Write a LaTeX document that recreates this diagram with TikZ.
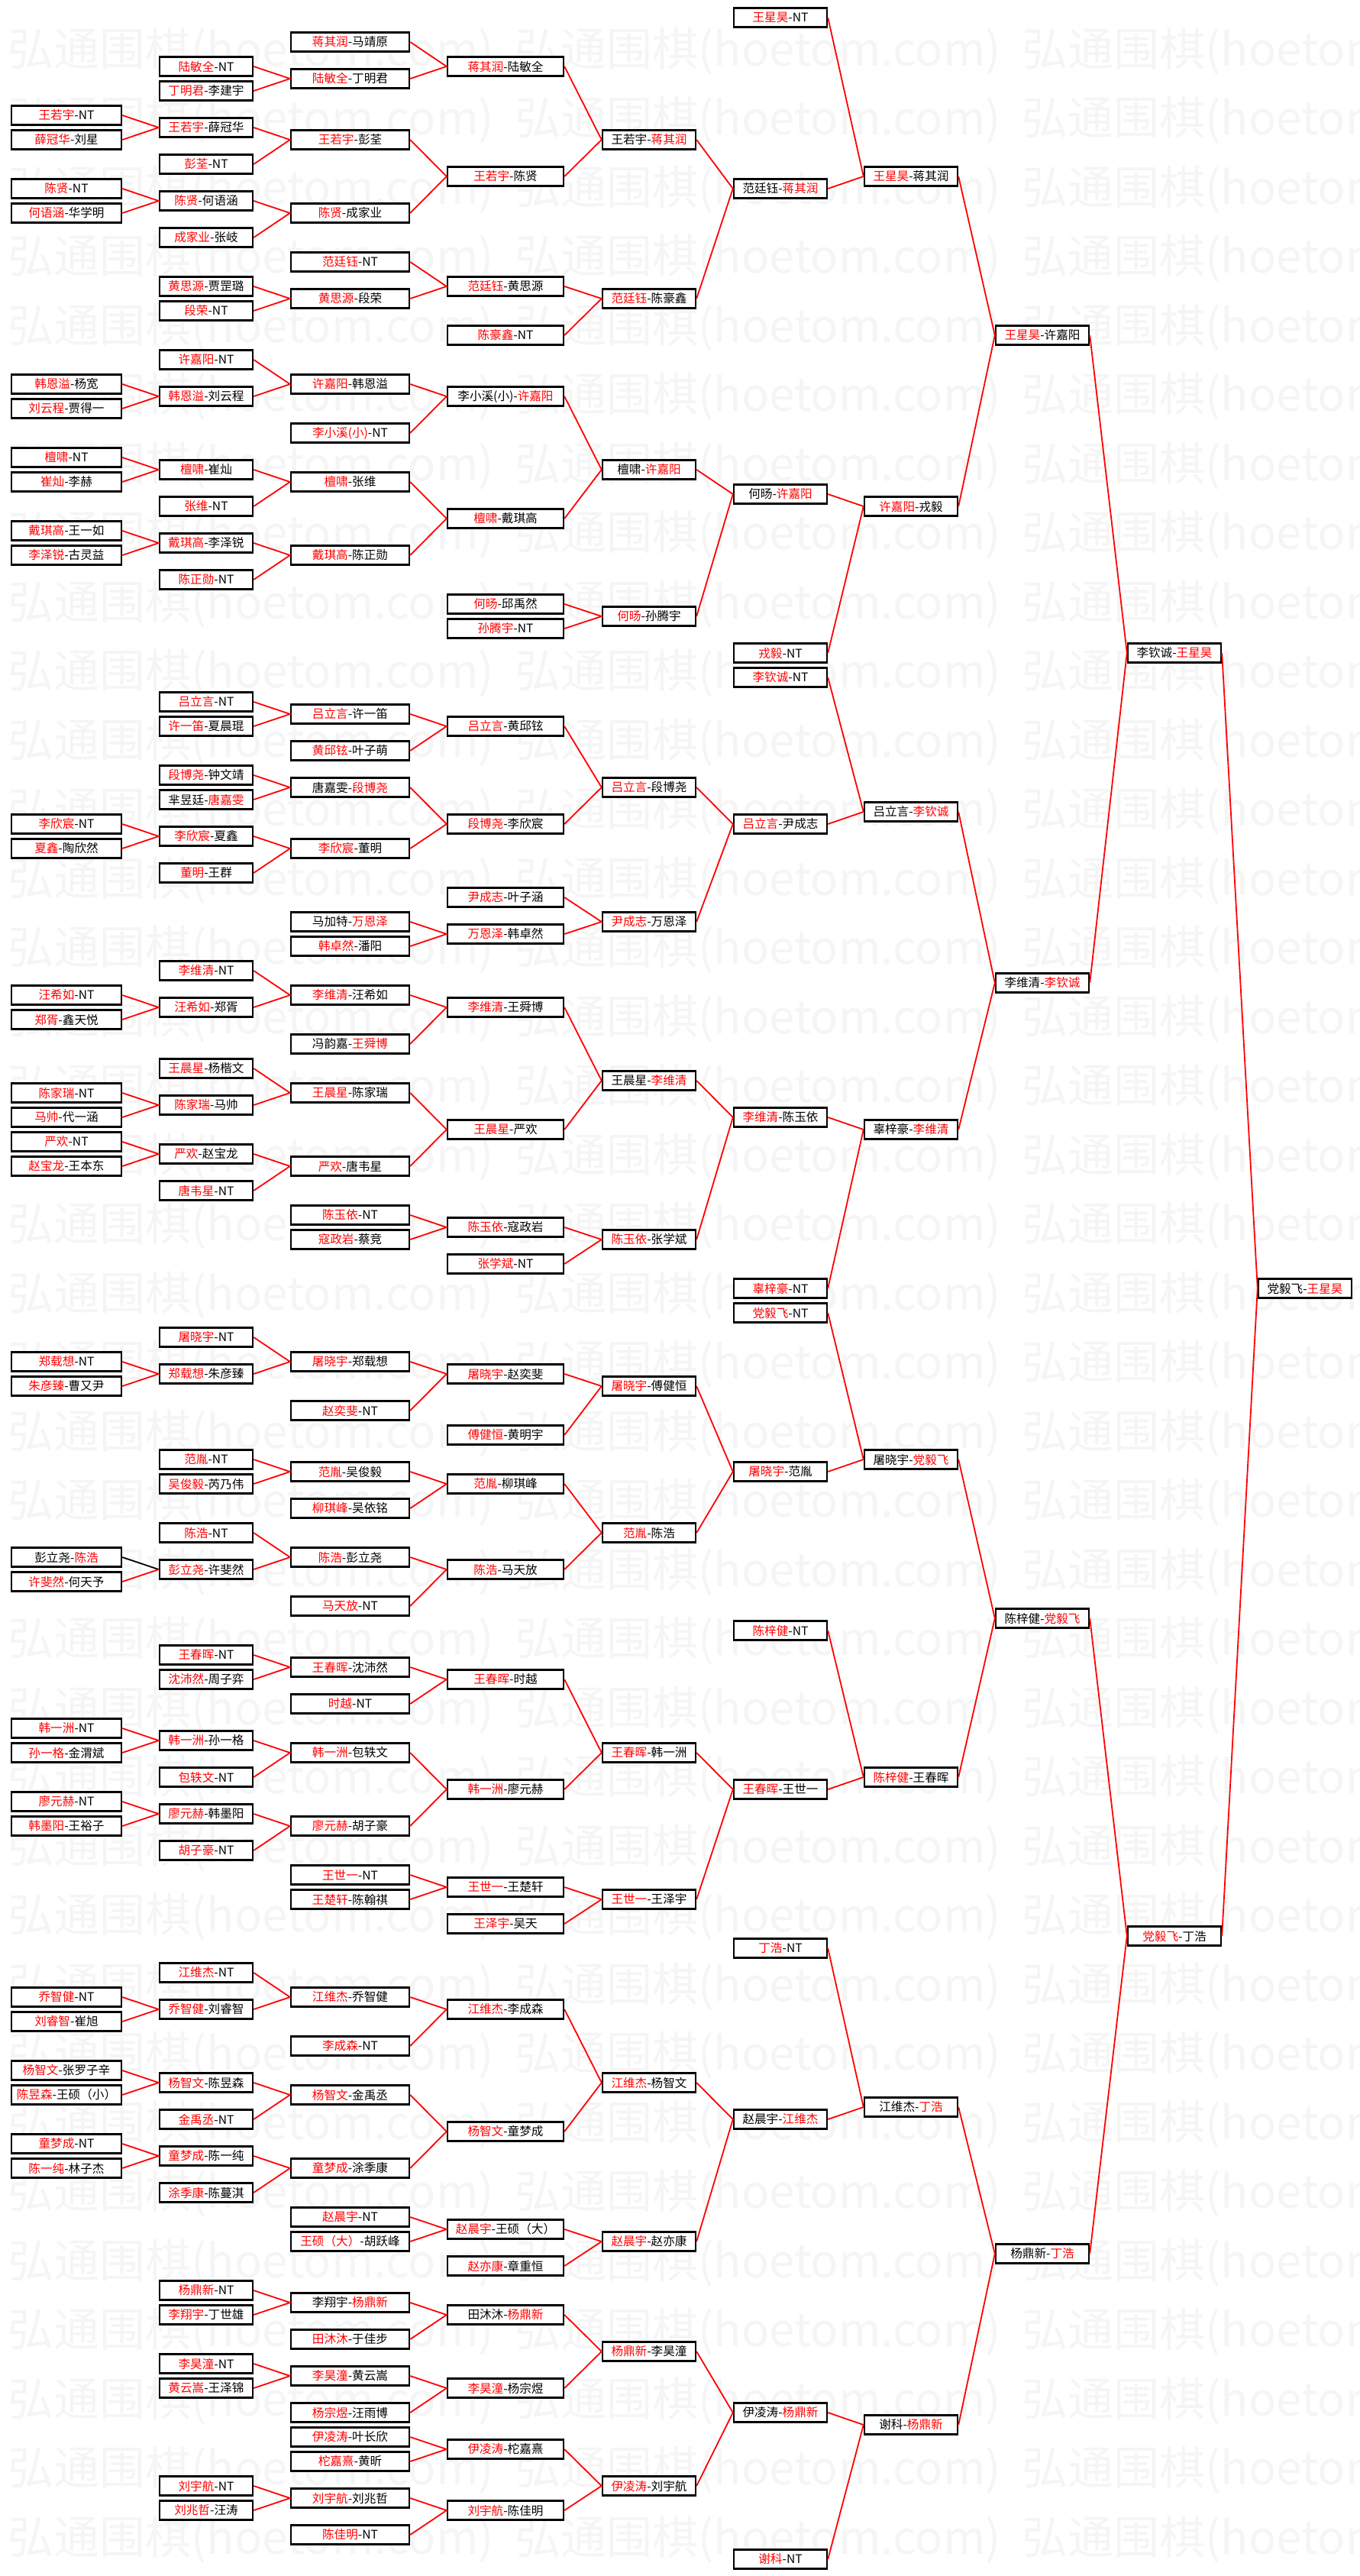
\documentclass[tikz,border=0pt]{standalone}
\usepackage{fontspec}
\setmainfont{Noto Sans CJK SC}
\newcommand\wn[1]{\textcolor{red}{#1}}

\begin{document}
\begin{tikzpicture}[x=0.5pt, y=-8pt,
  box/.style={draw, line width=1.2pt, fill=white, inner sep=0pt, minimum height=12.5pt, font=\fontsize{7.8}{9}\selectfont},
  rd1/.style={box, minimum width=72pt},
  rd2/.style={box, minimum width=61pt},
  rd3/.style={box, minimum width=77.5pt},
  rd4/.style={box, minimum width=76pt},
  rd5/.style={box, minimum width=61pt},
  link/.style={red, line width=0.9pt},
  mark text/.style={anchor=west, inner sep=0pt, text=black!4, font=\fontsize{30}{30}\selectfont}]

\useasboundingbox (0,-1.4375) rectangle (1781,209.375);
\clip (0,-1.4375) rectangle (1781,209.375);

% watermark
\foreach \k in {0,...,36}
  \foreach \wx in {10,674,1338}
    \node[mark text] (wm-\k-\wx) at (\wx,{2.75+5.656*\k}) {弘通围棋(hoetom.com)};

% first column
\node[rd1] (a8) at (87,8) {\wn{王若宇}-NT};
\node[rd1] (a10) at (87,10) {\wn{薛冠华}-刘星};
\node[rd1] (a14) at (87,14) {\wn{陈贤}-NT};
\node[rd1] (a16) at (87,16) {\wn{何语涵}-华学明};
\node[rd1] (a30) at (87,30) {\wn{韩恩溢}-杨宽};
\node[rd1] (a32) at (87,32) {\wn{刘云程}-贾得一};
\node[rd1] (a36) at (87,36) {\wn{檀啸}-NT};
\node[rd1] (a38) at (87,38) {\wn{崔灿}-李赫};
\node[rd1] (a42) at (87,42) {\wn{戴琪高}-王一如};
\node[rd1] (a44) at (87,44) {\wn{李泽锐}-古灵益};
\node[rd1] (a66) at (87,66) {\wn{李欣宸}-NT};
\node[rd1] (a68) at (87,68) {\wn{夏鑫}-陶欣然};
\node[rd1] (a80) at (87,80) {\wn{汪希如}-NT};
\node[rd1] (a82) at (87,82) {\wn{郑胥}-鑫天悦};
\node[rd1] (a88) at (87,88) {\wn{陈家瑞}-NT};
\node[rd1] (a90) at (87,90) {\wn{马帅}-代一涵};
\node[rd1] (a92) at (87,92) {\wn{严欢}-NT};
\node[rd1] (a94) at (87,94) {\wn{赵宝龙}-王本东};
\node[rd1] (a110) at (87,110) {\wn{郑载想}-NT};
\node[rd1] (a112) at (87,112) {\wn{朱彦臻}-曹又尹};
\node[rd1] (a126) at (87,126) {彭立尧-\wn{陈浩}};
\node[rd1] (a128) at (87,128) {\wn{许斐然}-何天予};
\node[rd1] (a140) at (87,140) {\wn{韩一洲}-NT};
\node[rd1] (a142) at (87,142) {\wn{孙一格}-金渭斌};
\node[rd1] (a146) at (87,146) {\wn{廖元赫}-NT};
\node[rd1] (a148) at (87,148) {\wn{韩墨阳}-王裕子};
\node[rd1] (a162) at (87,162) {\wn{乔智健}-NT};
\node[rd1] (a164) at (87,164) {\wn{刘睿智}-崔旭};
\node[rd1] (a168) at (87,168) {\wn{杨智文}-张罗子辛};
\node[rd1] (a170) at (87,170) {\wn{陈昱森}-王硕（小）};
\node[rd1] (a174) at (87,174) {\wn{童梦成}-NT};
\node[rd1] (a176) at (87,176) {\wn{陈一纯}-林子杰};

% second column
\node[rd2] (b4) at (270,4) {\wn{陆敏全}-NT};
\node[rd2] (b6) at (270,6) {\wn{丁明君}-李建宇};
\node[rd2] (b9) at (270,9) {\wn{王若宇}-薛冠华};
\node[rd2] (b12) at (270,12) {\wn{彭荃}-NT};
\node[rd2] (b15) at (270,15) {\wn{陈贤}-何语涵};
\node[rd2] (b18) at (270,18) {\wn{成家业}-张岐};
\node[rd2] (b22) at (270,22) {\wn{黄思源}-贾罡璐};
\node[rd2] (b24) at (270,24) {\wn{段荣}-NT};
\node[rd2] (b28) at (270,28) {\wn{许嘉阳}-NT};
\node[rd2] (b31) at (270,31) {\wn{韩恩溢}-刘云程};
\node[rd2] (b37) at (270,37) {\wn{檀啸}-崔灿};
\node[rd2] (b40) at (270,40) {\wn{张维}-NT};
\node[rd2] (b43) at (270,43) {\wn{戴琪高}-李泽锐};
\node[rd2] (b46) at (270,46) {\wn{陈正勋}-NT};
\node[rd2] (b56) at (270,56) {\wn{吕立言}-NT};
\node[rd2] (b58) at (270,58) {\wn{许一笛}-夏晨琨};
\node[rd2] (b62) at (270,62) {\wn{段博尧}-钟文靖};
\node[rd2] (b64) at (270,64) {芈昱廷-\wn{唐嘉雯}};
\node[rd2] (b67) at (270,67) {\wn{李欣宸}-夏鑫};
\node[rd2] (b70) at (270,70) {\wn{董明}-王群};
\node[rd2] (b78) at (270,78) {\wn{李维清}-NT};
\node[rd2] (b81) at (270,81) {\wn{汪希如}-郑胥};
\node[rd2] (b86) at (270,86) {\wn{王晨星}-杨楷文};
\node[rd2] (b89) at (270,89) {\wn{陈家瑞}-马帅};
\node[rd2] (b93) at (270,93) {\wn{严欢}-赵宝龙};
\node[rd2] (b96) at (270,96) {\wn{唐韦星}-NT};
\node[rd2] (b108) at (270,108) {\wn{屠晓宇}-NT};
\node[rd2] (b111) at (270,111) {\wn{郑载想}-朱彦臻};
\node[rd2] (b118) at (270,118) {\wn{范胤}-NT};
\node[rd2] (b120) at (270,120) {\wn{吴俊毅}-芮乃伟};
\node[rd2] (b124) at (270,124) {\wn{陈浩}-NT};
\node[rd2] (b127) at (270,127) {\wn{彭立尧}-许斐然};
\node[rd2] (b134) at (270,134) {\wn{王春晖}-NT};
\node[rd2] (b136) at (270,136) {\wn{沈沛然}-周子弈};
\node[rd2] (b141) at (270,141) {\wn{韩一洲}-孙一格};
\node[rd2] (b144) at (270,144) {\wn{包轶文}-NT};
\node[rd2] (b147) at (270,147) {\wn{廖元赫}-韩墨阳};
\node[rd2] (b150) at (270,150) {\wn{胡子豪}-NT};
\node[rd2] (b160) at (270,160) {\wn{江维杰}-NT};
\node[rd2] (b163) at (270,163) {\wn{乔智健}-刘睿智};
\node[rd2] (b169) at (270,169) {\wn{杨智文}-陈昱森};
\node[rd2] (b172) at (270,172) {\wn{金禹丞}-NT};
\node[rd2] (b175) at (270,175) {\wn{童梦成}-陈一纯};
\node[rd2] (b178) at (270,178) {\wn{涂季康}-陈蔓淇};
\node[rd2] (b186) at (270,186) {\wn{杨鼎新}-NT};
\node[rd2] (b188) at (270,188) {\wn{李翔宇}-丁世雄};
\node[rd2] (b192) at (270,192) {\wn{李昊潼}-NT};
\node[rd2] (b194) at (270,194) {\wn{黄云嵩}-王泽锦};
\node[rd2] (b202) at (270,202) {\wn{刘宇航}-NT};
\node[rd2] (b204) at (270,204) {\wn{刘兆哲}-汪涛};

% third column
\node[rd3] (c2) at (458.5,2) {\wn{蒋其润}-马靖原};
\node[rd3] (c5) at (458.5,5) {\wn{陆敏全}-丁明君};
\node[rd3] (c10) at (458.5,10) {\wn{王若宇}-彭荃};
\node[rd3] (c16) at (458.5,16) {\wn{陈贤}-成家业};
\node[rd3] (c20) at (458.5,20) {\wn{范廷钰}-NT};
\node[rd3] (c23) at (458.5,23) {\wn{黄思源}-段荣};
\node[rd3] (c30) at (458.5,30) {\wn{许嘉阳}-韩恩溢};
\node[rd3] (c34) at (458.5,34) {\wn{李小溪(小)}-NT};
\node[rd3] (c38) at (458.5,38) {\wn{檀啸}-张维};
\node[rd3] (c44) at (458.5,44) {\wn{戴琪高}-陈正勋};
\node[rd3] (c57) at (458.5,57) {\wn{吕立言}-许一笛};
\node[rd3] (c60) at (458.5,60) {\wn{黄邱铉}-叶子萌};
\node[rd3] (c63) at (458.5,63) {唐嘉雯-\wn{段博尧}};
\node[rd3] (c68) at (458.5,68) {\wn{李欣宸}-董明};
\node[rd3] (c74) at (458.5,74) {马加特-\wn{万恩泽}};
\node[rd3] (c76) at (458.5,76) {\wn{韩卓然}-潘阳};
\node[rd3] (c80) at (458.5,80) {\wn{李维清}-汪希如};
\node[rd3] (c84) at (458.5,84) {冯韵嘉-\wn{王舜博}};
\node[rd3] (c88) at (458.5,88) {\wn{王晨星}-陈家瑞};
\node[rd3] (c94) at (458.5,94) {\wn{严欢}-唐韦星};
\node[rd3] (c98) at (458.5,98) {\wn{陈玉依}-NT};
\node[rd3] (c100) at (458.5,100) {\wn{寇政岩}-蔡竞};
\node[rd3] (c110) at (458.5,110) {\wn{屠晓宇}-郑载想};
\node[rd3] (c114) at (458.5,114) {\wn{赵奕斐}-NT};
\node[rd3] (c119) at (458.5,119) {\wn{范胤}-吴俊毅};
\node[rd3] (c122) at (458.5,122) {\wn{柳琪峰}-吴依铭};
\node[rd3] (c126) at (458.5,126) {\wn{陈浩}-彭立尧};
\node[rd3] (c130) at (458.5,130) {\wn{马天放}-NT};
\node[rd3] (c135) at (458.5,135) {\wn{王春晖}-沈沛然};
\node[rd3] (c138) at (458.5,138) {\wn{时越}-NT};
\node[rd3] (c142) at (458.5,142) {\wn{韩一洲}-包轶文};
\node[rd3] (c148) at (458.5,148) {\wn{廖元赫}-胡子豪};
\node[rd3] (c152) at (458.5,152) {\wn{王世一}-NT};
\node[rd3] (c154) at (458.5,154) {\wn{王楚轩}-陈翰祺};
\node[rd3] (c162) at (458.5,162) {\wn{江维杰}-乔智健};
\node[rd3] (c166) at (458.5,166) {\wn{李成森}-NT};
\node[rd3] (c170) at (458.5,170) {\wn{杨智文}-金禹丞};
\node[rd3] (c176) at (458.5,176) {\wn{童梦成}-涂季康};
\node[rd3] (c180) at (458.5,180) {\wn{赵晨宇}-NT};
\node[rd3] (c182) at (458.5,182) {\wn{王硕（大）}-胡跃峰};
\node[rd3] (c187) at (458.5,187) {李翔宇-\wn{杨鼎新}};
\node[rd3] (c190) at (458.5,190) {\wn{田沐沐}-于佳步};
\node[rd3] (c193) at (458.5,193) {\wn{李昊潼}-黄云嵩};
\node[rd3] (c196) at (458.5,196) {\wn{杨宗煜}-汪雨博};
\node[rd3] (c198) at (458.5,198) {\wn{伊凌涛}-叶长欣};
\node[rd3] (c200) at (458.5,200) {\wn{柁嘉熹}-黄昕};
\node[rd3] (c203) at (458.5,203) {\wn{刘宇航}-刘兆哲};
\node[rd3] (c206) at (458.5,206) {\wn{陈佳明}-NT};

% fourth column
\node[rd4] (d4) at (662,4) {\wn{蒋其润}-陆敏全};
\node[rd4] (d13) at (662,13) {\wn{王若宇}-陈贤};
\node[rd4] (d22) at (662,22) {\wn{范廷钰}-黄思源};
\node[rd4] (d26) at (662,26) {\wn{陈豪鑫}-NT};
\node[rd4] (d31) at (662,31) {李小溪(小)-\wn{许嘉阳}};
\node[rd4] (d41) at (662,41) {\wn{檀啸}-戴琪高};
\node[rd4] (d48) at (662,48) {\wn{何旸}-邱禹然};
\node[rd4] (d50) at (662,50) {\wn{孙腾宇}-NT};
\node[rd4] (d58) at (662,58) {\wn{吕立言}-黄邱铉};
\node[rd4] (d66) at (662,66) {\wn{段博尧}-李欣宸};
\node[rd4] (d72) at (662,72) {\wn{尹成志}-叶子涵};
\node[rd4] (d75) at (662,75) {\wn{万恩泽}-韩卓然};
\node[rd4] (d81) at (662,81) {\wn{李维清}-王舜博};
\node[rd4] (d91) at (662,91) {\wn{王晨星}-严欢};
\node[rd4] (d99) at (662,99) {\wn{陈玉依}-寇政岩};
\node[rd4] (d102) at (662,102) {\wn{张学斌}-NT};
\node[rd4] (d111) at (662,111) {\wn{屠晓宇}-赵奕斐};
\node[rd4] (d116) at (662,116) {\wn{傅健恒}-黄明宇};
\node[rd4] (d120) at (662,120) {\wn{范胤}-柳琪峰};
\node[rd4] (d127) at (662,127) {\wn{陈浩}-马天放};
\node[rd4] (d136) at (662,136) {\wn{王春晖}-时越};
\node[rd4] (d145) at (662,145) {\wn{韩一洲}-廖元赫};
\node[rd4] (d153) at (662,153) {\wn{王世一}-王楚轩};
\node[rd4] (d156) at (662,156) {\wn{王泽宇}-吴天};
\node[rd4] (d163) at (662,163) {\wn{江维杰}-李成森};
\node[rd4] (d173) at (662,173) {\wn{杨智文}-童梦成};
\node[rd4] (d181) at (662,181) {\wn{赵晨宇}-王硕（大）};
\node[rd4] (d184) at (662,184) {\wn{赵亦康}-章重恒};
\node[rd4] (d188) at (662,188) {田沐沐-\wn{杨鼎新}};
\node[rd4] (d194) at (662,194) {\wn{李昊潼}-杨宗煜};
\node[rd4] (d199) at (662,199) {\wn{伊凌涛}-柁嘉熹};
\node[rd4] (d204) at (662,204) {\wn{刘宇航}-陈佳明};

% fifth column
\node[rd5] (e10) at (850,10) {王若宇-\wn{蒋其润}};
\node[rd5] (e23) at (850,23) {\wn{范廷钰}-陈豪鑫};
\node[rd5] (e37) at (850,37) {檀啸-\wn{许嘉阳}};
\node[rd5] (e49) at (850,49) {\wn{何旸}-孙腾宇};
\node[rd5] (e63) at (850,63) {\wn{吕立言}-段博尧};
\node[rd5] (e74) at (850,74) {\wn{尹成志}-万恩泽};
\node[rd5] (e87) at (850,87) {王晨星-\wn{李维清}};
\node[rd5] (e100) at (850,100) {\wn{陈玉依}-张学斌};
\node[rd5] (e112) at (850,112) {\wn{屠晓宇}-傅健恒};
\node[rd5] (e124) at (850,124) {\wn{范胤}-陈浩};
\node[rd5] (e142) at (850,142) {\wn{王春晖}-韩一洲};
\node[rd5] (e154) at (850,154) {\wn{王世一}-王泽宇};
\node[rd5] (e169) at (850,169) {\wn{江维杰}-杨智文};
\node[rd5] (e182) at (850,182) {\wn{赵晨宇}-赵亦康};
\node[rd5] (e191) at (850,191) {\wn{杨鼎新}-李昊潼};
\node[rd5] (e202) at (850,202) {\wn{伊凌涛}-刘宇航};

% sixth column
\node[rd5] (f0) at (1022,0) {\wn{王星昊}-NT};
\node[rd5] (f14) at (1022,14) {范廷钰-\wn{蒋其润}};
\node[rd5] (f39) at (1022,39) {何旸-\wn{许嘉阳}};
\node[rd5] (f52) at (1022,52) {\wn{戎毅}-NT};
\node[rd5] (f54) at (1022,54) {\wn{李钦诚}-NT};
\node[rd5] (f66) at (1022,66) {\wn{吕立言}-尹成志};
\node[rd5] (f90) at (1022,90) {\wn{李维清}-陈玉依};
\node[rd5] (f104) at (1022,104) {\wn{辜梓豪}-NT};
\node[rd5] (f106) at (1022,106) {\wn{党毅飞}-NT};
\node[rd5] (f119) at (1022,119) {\wn{屠晓宇}-范胤};
\node[rd5] (f132) at (1022,132) {\wn{陈梓健}-NT};
\node[rd5] (f145) at (1022,145) {\wn{王春晖}-王世一};
\node[rd5] (f158) at (1022,158) {\wn{丁浩}-NT};
\node[rd5] (f172) at (1022,172) {赵晨宇-\wn{江维杰}};
\node[rd5] (f196) at (1022,196) {伊凌涛-\wn{杨鼎新}};
\node[rd5] (f208) at (1022,208) {\wn{谢科}-NT};

% seventh column
\node[rd5] (g13) at (1193,13) {\wn{王星昊}-蒋其润};
\node[rd5] (g40) at (1193,40) {\wn{许嘉阳}-戎毅};
\node[rd5] (g65) at (1193,65) {吕立言-\wn{李钦诚}};
\node[rd5] (g91) at (1193,91) {辜梓豪-\wn{李维清}};
\node[rd5] (g118) at (1193,118) {屠晓宇-\wn{党毅飞}};
\node[rd5] (g144) at (1193,144) {\wn{陈梓健}-王春晖};
\node[rd5] (g171) at (1193,171) {江维杰-\wn{丁浩}};
\node[rd5] (g197) at (1193,197) {谢科-\wn{杨鼎新}};

% last columns
\node[rd5] (h26) at (1365,26) {\wn{王星昊}-许嘉阳};
\node[rd5] (h79) at (1365,79) {李维清-\wn{李钦诚}};
\node[rd5] (h131) at (1365,131) {陈梓健-\wn{党毅飞}};
\node[rd5] (h183) at (1365,183) {杨鼎新-\wn{丁浩}};
\node[rd5] (i52) at (1538,52) {李钦诚-\wn{王星昊}};
\node[rd5] (i157) at (1538,157) {\wn{党毅飞}-丁浩};
\node[rd5] (j104) at (1709,104) {党毅飞-\wn{王星昊}};

% links
\draw[link] (a8.east) -- (b9.west) -- (a10.east);
\draw[link] (a14.east) -- (b15.west) -- (a16.east);
\draw[link] (a30.east) -- (b31.west) -- (a32.east);
\draw[link] (a36.east) -- (b37.west) -- (a38.east);
\draw[link] (a42.east) -- (b43.west) -- (a44.east);
\draw[link] (a66.east) -- (b67.west) -- (a68.east);
\draw[link] (a80.east) -- (b81.west) -- (a82.east);
\draw[link] (a88.east) -- (b89.west) -- (a90.east);
\draw[link] (a92.east) -- (b93.west) -- (a94.east);
\draw[link] (a110.east) -- (b111.west) -- (a112.east);
\draw[line width=0.9pt] (a126.east) -- (b127.west);
\draw[link] (b127.west) -- (a128.east);
\draw[link] (a140.east) -- (b141.west) -- (a142.east);
\draw[link] (a146.east) -- (b147.west) -- (a148.east);
\draw[link] (a162.east) -- (b163.west) -- (a164.east);
\draw[link] (a168.east) -- (b169.west) -- (a170.east);
\draw[link] (a174.east) -- (b175.west) -- (a176.east);

\draw[link] (b4.east) -- (c5.west) -- (b6.east);
\draw[link] (b9.east) -- (c10.west) -- (b12.east);
\draw[link] (b15.east) -- (c16.west) -- (b18.east);
\draw[link] (b22.east) -- (c23.west) -- (b24.east);
\draw[link] (b28.east) -- (c30.west) -- (b31.east);
\draw[link] (b37.east) -- (c38.west) -- (b40.east);
\draw[link] (b43.east) -- (c44.west) -- (b46.east);
\draw[link] (b56.east) -- (c57.west) -- (b58.east);
\draw[link] (b62.east) -- (c63.west) -- (b64.east);
\draw[link] (b67.east) -- (c68.west) -- (b70.east);
\draw[link] (b78.east) -- (c80.west) -- (b81.east);
\draw[link] (b86.east) -- (c88.west) -- (b89.east);
\draw[link] (b93.east) -- (c94.west) -- (b96.east);
\draw[link] (b108.east) -- (c110.west) -- (b111.east);
\draw[link] (b118.east) -- (c119.west) -- (b120.east);
\draw[link] (b124.east) -- (c126.west) -- (b127.east);
\draw[link] (b134.east) -- (c135.west) -- (b136.east);
\draw[link] (b141.east) -- (c142.west) -- (b144.east);
\draw[link] (b147.east) -- (c148.west) -- (b150.east);
\draw[link] (b160.east) -- (c162.west) -- (b163.east);
\draw[link] (b169.east) -- (c170.west) -- (b172.east);
\draw[link] (b175.east) -- (c176.west) -- (b178.east);
\draw[link] (b186.east) -- (c187.west) -- (b188.east);
\draw[link] (b192.east) -- (c193.west) -- (b194.east);
\draw[link] (b202.east) -- (c203.west) -- (b204.east);

\draw[link] (c2.east) -- (d4.west) -- (c5.east);
\draw[link] (c10.east) -- (d13.west) -- (c16.east);
\draw[link] (c20.east) -- (d22.west) -- (c23.east);
\draw[link] (c30.east) -- (d31.west) -- (c34.east);
\draw[link] (c38.east) -- (d41.west) -- (c44.east);
\draw[link] (c57.east) -- (d58.west) -- (c60.east);
\draw[link] (c63.east) -- (d66.west) -- (c68.east);
\draw[link] (c74.east) -- (d75.west) -- (c76.east);
\draw[link] (c80.east) -- (d81.west) -- (c84.east);
\draw[link] (c88.east) -- (d91.west) -- (c94.east);
\draw[link] (c98.east) -- (d99.west) -- (c100.east);
\draw[link] (c110.east) -- (d111.west) -- (c114.east);
\draw[link] (c119.east) -- (d120.west) -- (c122.east);
\draw[link] (c126.east) -- (d127.west) -- (c130.east);
\draw[link] (c135.east) -- (d136.west) -- (c138.east);
\draw[link] (c142.east) -- (d145.west) -- (c148.east);
\draw[link] (c152.east) -- (d153.west) -- (c154.east);
\draw[link] (c162.east) -- (d163.west) -- (c166.east);
\draw[link] (c170.east) -- (d173.west) -- (c176.east);
\draw[link] (c180.east) -- (d181.west) -- (c182.east);
\draw[link] (c187.east) -- (d188.west) -- (c190.east);
\draw[link] (c193.east) -- (d194.west) -- (c196.east);
\draw[link] (c198.east) -- (d199.west) -- (c200.east);
\draw[link] (c203.east) -- (d204.west) -- (c206.east);

\draw[link] (d4.east) -- (e10.west) -- (d13.east);
\draw[link] (d22.east) -- (e23.west) -- (d26.east);
\draw[link] (d31.east) -- (e37.west) -- (d41.east);
\draw[link] (d48.east) -- (e49.west) -- (d50.east);
\draw[link] (d58.east) -- (e63.west) -- (d66.east);
\draw[link] (d72.east) -- (e74.west) -- (d75.east);
\draw[link] (d81.east) -- (e87.west) -- (d91.east);
\draw[link] (d99.east) -- (e100.west) -- (d102.east);
\draw[link] (d111.east) -- (e112.west) -- (d116.east);
\draw[link] (d120.east) -- (e124.west) -- (d127.east);
\draw[link] (d136.east) -- (e142.west) -- (d145.east);
\draw[link] (d153.east) -- (e154.west) -- (d156.east);
\draw[link] (d163.east) -- (e169.west) -- (d173.east);
\draw[link] (d181.east) -- (e182.west) -- (d184.east);
\draw[link] (d188.east) -- (e191.west) -- (d194.east);
\draw[link] (d199.east) -- (e202.west) -- (d204.east);

\draw[link] (e10.east) -- (f14.west) -- (e23.east);
\draw[link] (e37.east) -- (f39.west) -- (e49.east);
\draw[link] (e63.east) -- (f66.west) -- (e74.east);
\draw[link] (e87.east) -- (f90.west) -- (e100.east);
\draw[link] (e112.east) -- (f119.west) -- (e124.east);
\draw[link] (e142.east) -- (f145.west) -- (e154.east);
\draw[link] (e169.east) -- (f172.west) -- (e182.east);
\draw[link] (e191.east) -- (f196.west) -- (e202.east);

\draw[link] (f0.east) -- (g13.west) -- (f14.east);
\draw[link] (f39.east) -- (g40.west) -- (f52.east);
\draw[link] (f54.east) -- (g65.west) -- (f66.east);
\draw[link] (f90.east) -- (g91.west) -- (f104.east);
\draw[link] (f106.east) -- (g118.west) -- (f119.east);
\draw[link] (f132.east) -- (g144.west) -- (f145.east);
\draw[link] (f158.east) -- (g171.west) -- (f172.east);
\draw[link] (f196.east) -- (g197.west) -- (f208.east);

\draw[link] (g13.east) -- (h26.west) -- (g40.east);
\draw[link] (g65.east) -- (h79.west) -- (g91.east);
\draw[link] (g118.east) -- (h131.west) -- (g144.east);
\draw[link] (g171.east) -- (h183.west) -- (g197.east);

\draw[link] (h26.east) -- (i52.west) -- (h79.east);
\draw[link] (h131.east) -- (i157.west) -- (h183.east);
\draw[link] (i52.east) -- (j104.west) -- (i157.east);

\end{tikzpicture}
\end{document}
